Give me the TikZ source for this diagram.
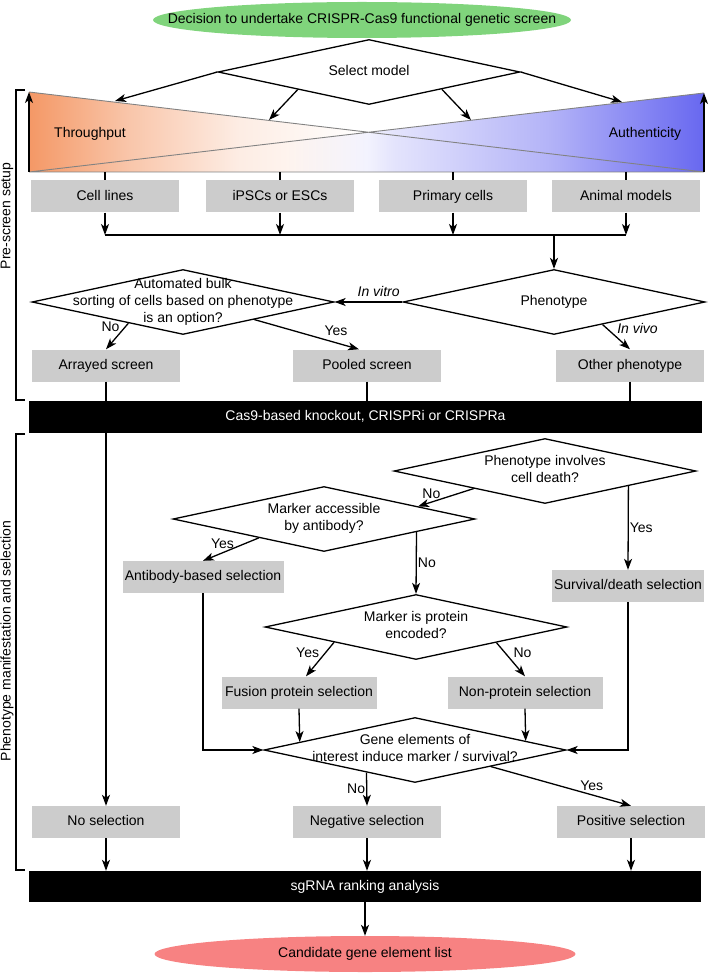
\documentclass[tikz,border=0pt]{standalone}
\usepackage{fontspec}
\setmainfont{Liberation Sans}
\usetikzlibrary{shapes.geometric,arrows.meta,calc}
\definecolor{startgreen}{RGB}{128,212,124}
\definecolor{endred}{RGB}{247,130,130}
\definecolor{boxgray}{RGB}{204,204,204}
\definecolor{thrput}{RGB}{244,152,102}
\definecolor{authen}{RGB}{104,104,240}
\definecolor{edgegray}{RGB}{130,130,130}
\pgfdeclarehorizontalshading{thrshade}{100bp}{color(0bp)=(thrput); color(25bp)=(thrput); color(32.5bp)=(thrput!55!white); color(40.5bp)=(thrput!18!white); color(50bp)=(white); color(100bp)=(white)}
\pgfdeclarehorizontalshading{authshade}{100bp}{color(0bp)=(white); color(44bp)=(white); color(50bp)=(authen!8!white); color(52bp)=(authen!18!white); color(63.5bp)=(authen!50!white); color(75bp)=(authen); color(100bp)=(authen)}
\newcommand\ctext[1]{\makebox[0pt]{\begin{tabular}{@{}c@{}}#1\end{tabular}}}
\tikzset{
  conn/.style={line width=1.3pt},
  arr/.style={conn,-{Stealth[length=11pt,width=8pt,inset=3pt]}},
  box/.style={fill=boxgray,minimum width=148pt,minimum height=32pt,inner sep=0pt,text height=10.5pt,text depth=3pt},
  bar/.style={fill=black,text=white,minimum width=673pt,minimum height=32pt,inner sep=0pt,text height=10.5pt,text depth=3pt},
  decision/.style={diamond,draw,line width=1.3pt,minimum width=302pt,minimum height=65pt,inner sep=0pt},
  lbl/.style={inner sep=1pt},
  ital/.style={inner sep=1pt,font=\fontsize{14}{17}\selectfont\itshape},
}
\begin{document}
\begin{tikzpicture}[x=1pt,y=-1pt,every node/.style={font=\fontsize{14}{17}\selectfont}]
\useasboundingbox (0,0) rectangle (709,973);
\coordinate (tl) at (29,92); \coordinate (bl) at (29,172); \coordinate (tr) at (704,93); \coordinate (br) at (704,172);
\begin{scope}[blend mode=multiply]
\shade[shading=thrshade] (tl) -- (bl) -- (br) -- cycle;
\shade[shading=authshade] (bl) -- (tr) -- (br) -- cycle;
\end{scope}
\draw[edgegray,line width=0.9pt] (tl) -- (br) (bl) -- (tr) (bl) -- (br);
\draw[arr] (bl) -- (tl);
\draw[arr] (br) -- (tr);
\node (thr) at (90,134) {Throughput};
\node (auth) at (645,134) {Authenticity};

\node[ellipse,fill=startgreen,minimum width=418pt,minimum height=36pt,inner sep=0pt] (start) at (362,20) {\ctext{Decision to undertake CRISPR-Cas9 functional genetic screen}};
\node[decision] (sel) at (369,72) {\ctext{Select model}};
\coordinate (ta) at (115,101); \coordinate (tb) at (269,120); \coordinate (tc) at (471,120); \coordinate (td) at (622,102);
\draw[arr] (sel.west) -- (ta);
\draw[arr] ($(sel.west)!0.53!(sel.south)$) -- (tb);
\draw[arr] ($(sel.south)!0.48!(sel.east)$) -- (tc);
\draw[arr] (sel.east) -- (td);

\node[box] (cell) at (105,196.5) {Cell lines};
\node[box] (ipsc) at (280,196.5) {iPSCs or ESCs};
\node[box] (prim) at (453,196.5) {Primary cells};
\node[box] (anim) at (626,196.5) {Animal models};
\coordinate (mrg) at (0,235);
\draw[conn] (cell.north |- br) -- (cell.north);
\draw[conn] (ipsc.north |- br) -- (ipsc.north);
\draw[conn] (prim.north |- br) -- (prim.north);
\draw[conn] (anim.north |- br) -- (anim.north);
\draw[arr] (cell.south) -- (cell.south |- mrg);
\draw[arr] (ipsc.south) -- (ipsc.south |- mrg);
\draw[arr] (prim.south) -- (prim.south |- mrg);
\draw[arr] (anim.south) -- (anim.south |- mrg);
\draw[conn] (cell.south |- mrg) -- (anim.south |- mrg);

\node[decision] (phen) at (554,302) {\ctext{Phenotype}};
\node[decision] (auto) at (183,302) {\ctext{Automated bulk\\sorting of cells based on phenotype\\is an option?}};
\draw[arr] (phen.north |- mrg) -- (phen.north);
\node[box] (arrayed) at (106,365.5) {Arrayed screen};
\node[box] (pooled) at (367,365.5) {Pooled screen};
\node[box] (other) at (630,365.5) {Other phenotype};
\draw[arr] (phen.west) -- node[ital,above=4pt,pos=0.35] (vitro) {In vitro} (auto.east);
\draw[arr] ($(phen.south)!0.32!(phen.east)$) -- node[ital,pos=0.15,right=9pt] (vivo) {In vivo} (other.north);
\draw[arr] ($(auto.west)!0.64!(auto.south)$) -- node[lbl,pos=0.15,left=4pt] (ano) {No} (arrayed.north);
\draw[arr] ($(auto.south)!0.47!(auto.east)$) -- node[lbl,pos=0.78,above=5pt] (ayes) {Yes} ([xshift=-8pt]pooled.north);

\node[bar] (cas) at (365.5,417) {Cas9-based knockout, CRISPRi or CRISPRa};
\draw[conn] (pooled.south) -- (pooled.south |- cas.north);
\draw[conn] (other.south) -- (other.south |- cas.north);

\node[decision] (death) at (545,471) {\ctext{Phenotype involves\\cell death?}};
\node[decision] (acc) at (324,519) {\ctext{Marker accessible\\by antibody?}};
\node[box,minimum width=161pt] (anti) at (203,577) {Antibody-based selection};
\node[box,minimum width=152pt] (surv) at (628,586) {Survival/death selection};
\draw[arr] ($(death.west)!0.53!(death.south)$) -- node[lbl,pos=0.76,above=2pt] (dno) {No} ($(acc.north)!0.62!(acc.east)$);
\draw[arr] ($(death.south)!0.55!(death.east)$) -- node[lbl,midway,right] (dyes) {Yes} (surv.north);
\draw[arr] ($(acc.west)!0.57!(acc.south)$) -- node[lbl,pos=0.65,above=3pt] (cyes) {Yes} (anti.north);

\node[decision] (prot) at (416,627) {\ctext{Marker is protein\\encoded?}};
\draw[arr] ($(acc.south)!0.61!(acc.east)$) -- node[lbl,midway,right] (cno) {No} (prot.north);
\node[box,minimum width=155pt] (fus) at (299,692.5) {Fusion protein selection};
\node[box,minimum width=155pt] (nonp) at (525,692.5) {Non-protein selection};
\draw[arr] ($(prot.west)!0.46!(prot.south)$) -- node[lbl,pos=0.3,left=5pt] (pyes) {Yes} ([xshift=7pt]fus.north);
\draw[arr] ($(prot.south)!0.53!(prot.east)$) -- node[lbl,pos=0.3,right=7pt] (pno) {No} (nonp.north);

\node[decision] (gene) at (415,750) {\ctext{Gene elements of\\interest induce marker / survival?}};
\draw[arr] (fus.south) -- ($(gene.west)!0.24!(gene.north)$);
\draw[arr] (nonp.south) -- ($(gene.north)!0.73!(gene.east)$);
\draw[arr] (anti.south) |- (gene.west);
\draw[arr] (surv.south) |- (gene.east);

\node[box] (nosel) at (106,822) {No selection};
\node[box] (neg) at (367,822) {Negative selection};
\node[box] (posi) at (631,822) {Positive selection};
\draw[arr] (arrayed.south) -- (nosel.north);
\draw[arr] ($(gene.west)!0.68!(gene.south)$) -- node[lbl,midway,left] (gno) {No} (neg.north);
\draw[arr] ($(gene.south)!0.5!(gene.east)$) -- node[lbl,pos=0.72,above=3pt] (gyes) {Yes} (posi.north);

\node[bar,minimum width=672pt,minimum height=31pt] (rank) at (365,886.5) {sgRNA ranking analysis};
\draw[arr] (nosel.south) -- (nosel.south |- rank.north);
\draw[arr] (neg.south) -- (neg.south |- rank.north);
\draw[arr] (posi.south) -- (posi.south |- rank.north);
\node[ellipse,fill=endred,minimum width=421pt,minimum height=36pt,inner sep=0pt] (cand) at (365,954) {\ctext{Candidate gene element list}};
\draw[arr] (rank.south) -- (cand.north);

\draw[conn] (25,90) -- (16,90) -- (16,400) -- (25,400);
\draw[conn] (25,434) -- (16,434) -- (16,870) -- (25,870);
\node[rotate=90] (pre) at (7,216) {Pre-screen setup};
\node[rotate=90] (pheno) at (7,641) {Phenotype manifestation and selection};
\end{tikzpicture}
\end{document}
